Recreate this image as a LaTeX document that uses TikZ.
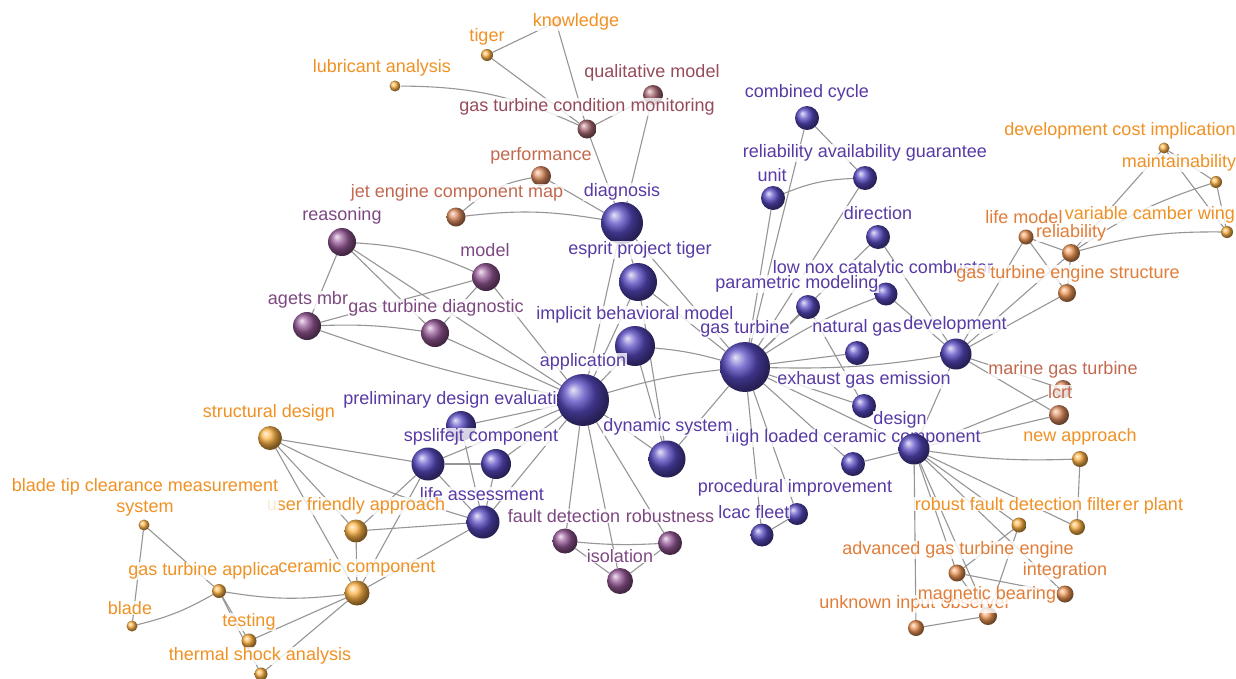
\documentclass[tikz,border=0pt]{standalone}
\usepackage{fontspec}
\setmainfont{Liberation Sans}
\pgfdeclarelayer{bglayer}
\pgfdeclarelayer{edgelayer}
\pgfsetlayers{bglayer,edgelayer,main}
\definecolor{edgeC}{RGB}{150,150,150}
\definecolor{bBlue}{RGB}{88,74,195}
\definecolor{tBlue}{RGB}{88,58,165}
\definecolor{bMauve}{RGB}{150,88,150}
\definecolor{tMauve}{RGB}{125,72,130}
\definecolor{bBrown}{RGB}{170,105,115}
\definecolor{tBrown}{RGB}{150,75,90}
\definecolor{bRust}{RGB}{222,140,95}
\definecolor{tRust}{RGB}{195,105,80}
\definecolor{bOr}{RGB}{255,180,70}
\definecolor{tOr}{RGB}{240,145,35}
\definecolor{bDOr}{RGB}{238,150,85}
\definecolor{tDOr}{RGB}{225,125,55}
\tikzset{
  ballnode/.style={circle, shading=ball, inner sep=0pt, outer sep=0pt},
  lbl/.style={fill=white, fill opacity=0.8, text opacity=1, inner sep=0.5pt, font=\fontsize{18}{21}\selectfont},
  edge/.style={draw=edgeC, line width=1.1pt},
}
\newcommand\mkball[5]{\node[ballnode, minimum size=#4*2pt, ball color=#5] (#1) at (#2,#3) {};}
\newcommand\mklab[5]{\node[lbl, text=#5] (#1) at (#2,#3) {#4};}
\newcommand\ed[3][]{\draw[edge,#1] (#2) to (#3);}
\begin{document}
\begin{tikzpicture}[x=1pt,y=-1pt]
\begin{pgfonlayer}{bglayer}
\fill[white] (0,0) rectangle (1236,678);
\end{pgfonlayer}
\useasboundingbox (0,0) rectangle (1236,678);
% label drawn below the balls
\mklab{l-high}{853}{438}{high loaded ceramic component}{tBlue}
% balls
\mkball{tiger}{487}{55}{6}{bOr}
\mkball{know}{556}{22}{5}{bOr}
\mkball{lub}{395}{86}{5.5}{bOr}
\mkball{qual}{653}{95}{10}{bBrown}
\mkball{gtcm}{587}{129}{9.5}{bBrown}
\mkball{perf}{541}{176}{10}{bRust}
\mkball{jet}{456}{217}{9.5}{bRust}
\mkball{diag}{622}{223}{21}{bBlue}
\mkball{reas}{342}{242}{14}{bMauve}
\mkball{model}{486}{277}{14}{bMauve}
\mkball{agets}{307}{326}{14}{bMauve}
\mkball{gtd}{435}{333}{14}{bMauve}
\mkball{esprit}{638}{282}{19}{bBlue}
\mkball{impl}{635}{346}{20}{bBlue}
\mkball{app}{583}{400}{26}{bBlue}
\mkball{gt}{745}{367}{25}{bBlue}
\mkball{prelim}{461}{426}{15}{bBlue}
\mkball{spsa}{428}{464}{16.5}{bBlue}
\mkball{spsb}{496}{464}{15}{bBlue}
\mkball{life}{483}{522}{16.5}{bBlue}
\mkball{dyn}{667}{459}{18.5}{bBlue}
\mkball{fault}{565}{541}{12.5}{bMauve}
\mkball{robust}{670}{543}{12}{bMauve}
\mkball{iso}{620}{581}{13}{bMauve}
\mkball{sd}{270}{438}{12}{bOr}
\mkball{ufa}{356}{531}{11.5}{bOr}
\mkball{btcm}{144}{525}{5.5}{bOr}
\mkball{gta}{219}{591}{7}{bOr}
\mkball{cer}{357}{593}{12.5}{bOr}
\mkball{blade}{132}{626}{5.5}{bOr}
\mkball{test}{249}{641}{7.5}{bOr}
\mkball{tsa}{261}{674}{6.5}{bOr}
\mkball{cc}{807}{118}{12}{bBlue}
\mkball{rag}{865}{178}{12}{bBlue}
\mkball{unit}{773}{198}{12}{bBlue}
\mkball{dir}{878}{237}{12}{bBlue}
\mkball{lownox}{886}{294}{11.5}{bBlue}
\mkball{param}{808}{307}{12}{bBlue}
\mkball{natgas}{857}{353}{12}{bBlue}
\mkball{dev}{956}{354}{15.5}{bBlue}
\mkball{exh}{864}{406}{12}{bBlue}
\mkball{design}{914}{449}{15.5}{bBlue}
\mkball{high}{853}{464}{12}{bBlue}
\mkball{proc}{797}{514}{11}{bBlue}
\mkball{lcac}{762}{535}{11.5}{bBlue}
\mkball{lifem}{1026}{237}{7.5}{bDOr}
\mkball{rel}{1071}{253}{9}{bDOr}
\mkball{vcw}{1227}{232}{6}{bOr}
\mkball{dci}{1164}{148}{5.5}{bOr}
\mkball{maint}{1216}{182}{6}{bOr}
\mkball{gtes}{1067}{293}{9}{bDOr}
\mkball{marine}{1063}{389}{9}{bRust}
\mkball{lcrt}{1059}{415}{10}{bRust}
\mkball{newapp}{1080}{459}{8}{bOr}
\mkball{rfdf}{1019}{525}{7.5}{bOr}
\mkball{erplant}{1077}{527}{8}{bOr}
\mkball{agte}{957}{573}{8.5}{bDOr}
\mkball{integ}{1065}{594}{8.5}{bDOr}
\mkball{magb}{988}{616}{9}{bDOr}
\mkball{uio}{916}{628}{8}{bDOr}
% edges
\begin{pgfonlayer}{edgelayer}
\ed{tiger}{know}
\ed{tiger}{gtcm}
\ed{know}{gtcm}
\ed[bend left=12]{lub}{gtcm}
\ed{gtcm}{qual}
\ed{gtcm}{diag}
\ed{qual}{diag}
\ed[bend right=15]{perf}{jet}
\ed{perf}{diag}
\ed[bend left=8]{jet}{diag}
\ed{diag}{app}
\ed{diag}{gt}
\ed{diag}{esprit}
\ed{esprit}{app}
\ed{esprit}{gt}
\ed{esprit}{dyn}
\ed{impl}{app}
\ed[bend left=5]{impl}{gt}
\ed{impl}{dyn}
\ed[bend left=5]{app}{gt}
\ed{app}{dyn}
\ed{gt}{dyn}
\ed[bend left=10]{reas}{model}
\ed{reas}{agets}
\ed{reas}{gtd}
\ed{reas}{app}
\ed{model}{agets}
\ed{model}{gtd}
\ed{model}{app}
\ed[bend left=5]{agets}{gtd}
\ed[bend right=4]{agets}{app}
\ed{gtd}{app}
\ed{app}{prelim}
\ed{app}{spsa}
\ed{app}{spsb}
\ed{app}{life}
\ed{app}{fault}
\ed{app}{iso}
\ed{app}{robust}
\ed{prelim}{life}
\ed{spsa}{spsb}
\ed{spsa}{life}
\ed{spsb}{life}
\ed{sd}{spsa}
\ed[bend right=5]{sd}{life}
\ed{sd}{ufa}
\ed{sd}{cer}
\ed{ufa}{spsa}
\ed{ufa}{life}
\ed{ufa}{cer}
\ed{cer}{spsa}
\ed{cer}{life}
\ed[bend left=8]{cer}{gta}
\ed{cer}{test}
\ed{cer}{tsa}
\ed{gta}{btcm}
\ed[bend left=8]{gta}{blade}
\ed{gta}{test}
\ed{gta}{tsa}
\ed{btcm}{blade}
\ed{fault}{iso}
\ed[bend right=4]{fault}{robust}
\ed{robust}{iso}
\ed{cc}{gt}
\ed{cc}{rag}
\ed[bend left=10]{unit}{rag}
\ed{unit}{gt}
\ed{rag}{gt}
\ed{dir}{gt}
\ed{dir}{dev}
\ed[bend right=6]{lownox}{gt}
\ed{lownox}{dev}
\ed{param}{gt}
\ed{param}{exh}
\ed{natgas}{gt}
\ed[bend right=5]{gt}{dev}
\ed{gt}{exh}
\ed{gt}{design}
\ed{gt}{high}
\ed{gt}{proc}
\ed{gt}{lcac}
\ed{proc}{lcac}
\ed{dev}{design}
\ed{dev}{lifem}
\ed{dev}{rel}
\ed{dev}{gtes}
\ed{dev}{marine}
\ed{dev}{lcrt}
\ed{design}{high}
\ed{design}{lcrt}
\ed{design}{marine}
\ed[bend right=5]{design}{newapp}
\ed{design}{rfdf}
\ed{design}{erplant}
\ed{design}{agte}
\ed{design}{integ}
\ed{design}{magb}
\ed{design}{uio}
\ed{newapp}{erplant}
\ed{agte}{rfdf}
\ed{agte}{magb}
\ed{agte}{integ}
\ed{rfdf}{magb}
\ed{magb}{uio}
\ed{lifem}{rel}
\ed{lifem}{gtes}
\ed{rel}{gtes}
\ed{rel}{dci}
\ed[bend left=8]{rel}{maint}
\ed[bend left=8]{rel}{vcw}
\ed{dci}{maint}
\ed{dci}{vcw}
\ed{maint}{vcw}
\end{pgfonlayer}
% labels
\mklab{l-tiger}{487}{37}{tiger}{tOr}
\mklab{l-know}{576}{22}{knowledge}{tOr}
\mklab{l-lub}{382}{68}{lubricant analysis}{tOr}
\mklab{l-qual}{652}{73}{qualitative model}{tBrown}
\mklab{l-gtcm}{587}{107}{gas turbine condition monitoring}{tBrown}
\mklab{l-perf}{541}{156}{performance}{tRust}
\mklab{l-jet}{457}{193}{jet engine component map}{tRust}
\mklab{l-diag}{622}{192}{diagnosis}{tBlue}
\mklab{l-reas}{342}{216}{reasoning}{tMauve}
\mklab{l-model}{485}{250}{model}{tMauve}
\mklab{l-agets}{308}{300}{agets mbr}{tMauve}
\mklab{l-gtd}{436}{308}{gas turbine diagnostic}{tMauve}
\mklab{l-esprit}{640}{250}{esprit project tiger}{tBlue}
\mklab{l-impl}{635}{315}{implicit behavioral model}{tBlue}
\mklab{l-app}{583}{362}{application}{tBlue}
\mklab{l-gt}{745}{329}{gas turbine}{tBlue}
\mklab{l-prelim}{450}{400}{preliminary design evaluati}{tBlue}
\mklab{l-sps}{481}{437}{spslifejt component}{tBlue}
\mklab{l-life}{482}{494}{life assessment}{tBlue}
\mklab{l-dyn}{668}{427}{dynamic system}{tBlue}
\mklab{l-fault}{564}{516}{fault detection}{tMauve}
\mklab{l-robust}{670}{516}{robustness}{tMauve}
\mklab{l-iso}{620}{556}{isolation}{tMauve}
\mklab{l-sd}{269}{413}{structural design}{tOr}
\mklab{l-ufa}{356}{506}{user friendly approach}{tOr}
\node[lbl, text=tOr, align=center] (l-btcm) at (145,497.5) {blade tip clearance measurement\\system};
\mklab{l-gta}{204}{571}{gas turbine applica}{tOr}
\mklab{l-cer}{357}{568}{ceramic component}{tOr}
\mklab{l-blade}{130}{608}{blade}{tOr}
\mklab{l-test}{249}{622}{testing}{tOr}
\mklab{l-tsa}{260}{656}{thermal shock analysis}{tOr}
\mklab{l-cc}{807}{93}{combined cycle}{tBlue}
\mklab{l-rag}{865}{153}{reliability availability guarantee}{tBlue}
\mklab{l-unit}{772}{175}{unit}{tBlue}
\mklab{l-dir}{878}{213}{direction}{tBlue}
\mklab{l-lownox}{883}{269}{low nox catalytic combustor}{tBlue}
\mklab{l-param}{797}{284}{parametric modeling}{tBlue}
\mklab{l-natgas}{857}{328}{natural gas}{tBlue}
\mklab{l-dev}{955}{325}{development}{tBlue}
\mklab{l-exh}{864}{380}{exhaust gas emission}{tBlue}
\mklab{l-design}{900}{420}{design}{tBlue}
\mklab{l-proc}{795}{488}{procedural improvement}{tBlue}
\mklab{l-lcac}{754}{512}{lcac fleet}{tBlue}
\mklab{l-lifem}{1024}{217}{life model}{tDOr}
\mklab{l-rel}{1071}{233}{reliability}{tDOr}
\mklab{l-vcw}{1150}{215}{variable camber wing}{tOr}
\mklab{l-dci}{1120}{131}{development cost implication}{tOr}
\mklab{l-maint}{1179}{163}{maintainability}{tOr}
\mklab{l-gtes}{1068}{274}{gas turbine engine structure}{tDOr}
\mklab{l-marine}{1063}{370}{marine gas turbine}{tRust}
\mklab{l-lcrt}{1060}{392}{lcrt}{tRust}
\mklab{l-newapp}{1080}{437}{new approach}{tOr}
\mklab{l-erplant}{1153}{506}{er plant}{tOr}
\mklab{l-rfdf}{1018}{504}{robust fault detection filter}{tOr}
\mklab{l-agte}{958}{550}{advanced gas turbine engine}{tDOr}
\mklab{l-integ}{1065}{571}{integration}{tDOr}
\mklab{l-uio}{915}{604}{unknown input observer}{tDOr}
\mklab{l-magb}{987}{595}{magnetic bearing}{tDOr}
\end{tikzpicture}
\end{document}
